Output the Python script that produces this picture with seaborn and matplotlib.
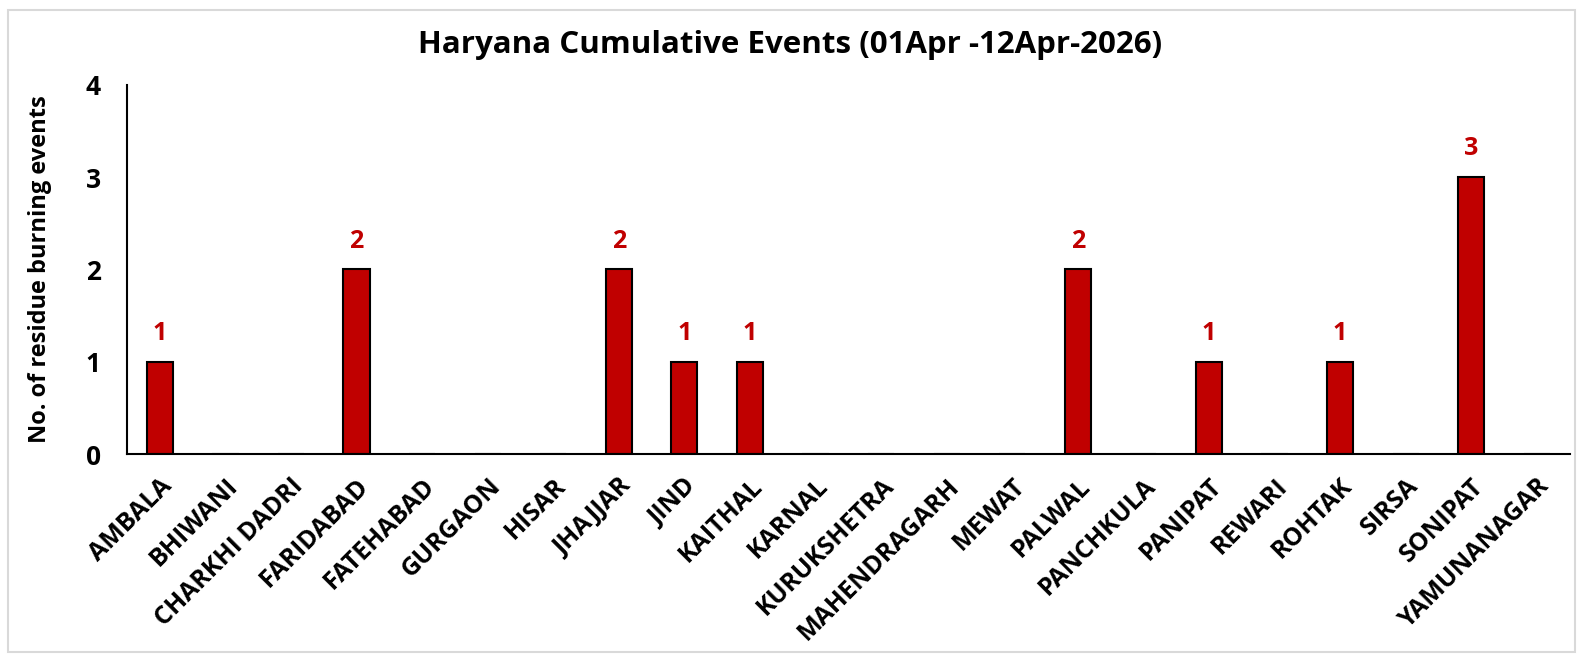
import matplotlib
matplotlib.use("Agg")
import matplotlib.pyplot as plt
from matplotlib.patches import Rectangle
import seaborn as sns
import pandas as pd

districts = ["AMBALA", "BHIWANI", "CHARKHI DADRI", "FARIDABAD", "FATEHABAD", "GURGAON",
             "HISAR", "JHAJJAR", "JIND", "KAITHAL", "KARNAL", "KURUKSHETRA", "MAHENDRAGARH",
             "MEWAT", "PALWAL", "PANCHKULA", "PANIPAT", "REWARI", "ROHTAK", "SIRSA",
             "SONIPAT", "YAMUNANAGAR"]
events = [1, 0, 0, 2, 0, 0, 0, 2, 1, 1, 0, 0, 0, 0, 2, 0, 1, 0, 1, 0, 3, 0]

df = pd.DataFrame({"district": districts, "events": events})

sns.set_style("white")
plt.rcParams['font.family'] = ['Open Sans', 'DejaVu Sans']
plt.rcParams['font.weight'] = 'bold'
plt.rcParams['text.color'] = 'black'
plt.rcParams['axes.labelcolor'] = 'black'
plt.rcParams['xtick.color'] = 'black'
plt.rcParams['ytick.color'] = 'black'

fig = plt.figure(figsize=(15.8, 6.62), dpi=100)
ax = fig.add_axes([0.0804, 0.314, 0.913, 0.558])

sns.barplot(data=df, x="district", y="events", color="#C00000", width=0.4,
            edgecolor="black", linewidth=1.5, saturation=1, ax=ax)

# labels only on bars that have events
for i, v in enumerate(events):
    if v > 0:
        ax.text(i, v + 0.17, str(v), ha="center", va="bottom", color="#C00000",
                fontsize=18, fontweight="bold")

ax.set_ylim(0, 4)
ax.set_xlim(-0.5, len(districts) - 0.5)
ax.set_yticks([0, 1, 2, 3, 4])
ax.set_yticklabels(["0", "1", "2", "3", "4"], fontsize=19, fontweight="bold")

# x ticks sit between the categories
ax.set_xticks([i - 0.5 for i in range(len(districts) + 1)], minor=False)
ax.set_xticklabels([])
ax.set_xticks(range(len(districts)), minor=True)
ax.set_xticklabels(districts, minor=True, rotation=45, ha="right", rotation_mode="anchor",
                   fontsize=18, fontweight="bold")
ax.tick_params(axis="x", which="major", direction="out", length=9, width=1.5, color="black")
ax.tick_params(axis="x", which="minor", length=0, pad=14)
ax.tick_params(axis="y", direction="out", length=9, width=1.5, color="black", pad=10)

for s in ["top", "right"]:
    ax.spines[s].set_visible(False)
for s in ["left", "bottom"]:
    ax.spines[s].set_color("black")
    ax.spines[s].set_linewidth(1.5)

ax.set_xlabel("")
ax.set_ylabel("No. of residue burning events", fontsize=17, fontweight="bold", labelpad=24)
fig.suptitle("Haryana Cumulative Events (01Apr -12Apr-2026)", fontsize=22.5,
             fontweight="bold", y=0.955)

fig.patches.append(Rectangle((0.005, 0.015), 0.992, 0.97, transform=fig.transFigure,
                             fill=False, edgecolor="#d9d9d9", linewidth=1.5))

fig.savefig("out.png", dpi=100)
